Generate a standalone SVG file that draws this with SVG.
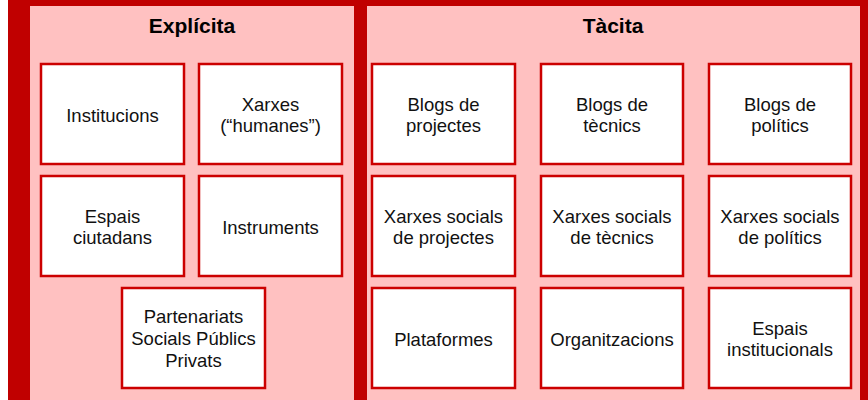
<svg xmlns="http://www.w3.org/2000/svg" width="868" height="400" viewBox="0 0 868 400">
<style>
.panel{fill:#FFC1C1}
.box rect{fill:#FFFFFF;stroke:#CC0000;stroke-width:2.5}
.box text{font-family:"Liberation Sans",Arial,sans-serif;font-size:18.5px;fill:#111111;text-anchor:middle}
.title{font-family:"Liberation Sans",Arial,sans-serif;font-size:21px;font-weight:bold;fill:#000000;text-anchor:middle}
</style>
<rect x="0" y="0" width="868" height="400" fill="#FFFFFF"/>
<rect x="8" y="0" width="860" height="400" fill="#C00000"/>
<rect class="panel" x="30" y="6" width="324" height="394"/>
<rect class="panel" x="367" y="6" width="493" height="394"/>
<text class="title" x="192" y="33">Explícita</text>
<text class="title" x="613" y="33">Tàcita</text>

<g id="institucions" class="box"><rect x="41" y="64" width="143" height="100"/><text x="112.5" y="121.5">Institucions</text></g>
<g id="xarxes-humanes" class="box"><rect x="199" y="64" width="143" height="100"/><text x="270.5" y="110.5">Xarxes</text><text x="270.5" y="131.5">(“humanes”)</text></g>
<g id="espais-ciutadans" class="box"><rect x="41" y="176" width="143" height="100"/><text x="112.5" y="223">Espais</text><text x="112.5" y="244">ciutadans</text></g>
<g id="instruments" class="box"><rect x="199" y="176" width="143" height="100"/><text x="270.5" y="233.5">Instruments</text></g>
<g id="partenariats" class="box"><rect x="122" y="288" width="143" height="100"/><text x="193.5" y="323">Partenariats</text><text x="193.5" y="345">Socials Públics</text><text x="193.5" y="367">Privats</text></g>

<g id="blogs-projectes" class="box"><rect x="372" y="64" width="143" height="100"/><text x="443.5" y="110.5">Blogs de</text><text x="443.5" y="131.5">projectes</text></g>
<g id="blogs-tecnics" class="box"><rect x="541" y="64" width="142" height="100"/><text x="612" y="110.5">Blogs de</text><text x="612" y="131.5">tècnics</text></g>
<g id="blogs-politics" class="box"><rect x="709" y="64" width="142" height="100"/><text x="780" y="110.5">Blogs de</text><text x="780" y="131.5">polítics</text></g>

<g id="xarxes-projectes" class="box"><rect x="372" y="176" width="143" height="100"/><text x="443.5" y="223">Xarxes socials</text><text x="443.5" y="244">de projectes</text></g>
<g id="xarxes-tecnics" class="box"><rect x="541" y="176" width="142" height="100"/><text x="612" y="223">Xarxes socials</text><text x="612" y="244">de tècnics</text></g>
<g id="xarxes-politics" class="box"><rect x="709" y="176" width="142" height="100"/><text x="780" y="223">Xarxes socials</text><text x="780" y="244">de polítics</text></g>

<g id="plataformes" class="box"><rect x="372" y="288" width="143" height="100"/><text x="443.5" y="345.5">Plataformes</text></g>
<g id="organitzacions" class="box"><rect x="541" y="288" width="142" height="100"/><text x="612" y="345.5">Organitzacions</text></g>
<g id="espais-institucionals" class="box"><rect x="709" y="288" width="142" height="100"/><text x="780" y="335">Espais</text><text x="780" y="356">institucionals</text></g>

<g id="connectors"></g>
</svg>
